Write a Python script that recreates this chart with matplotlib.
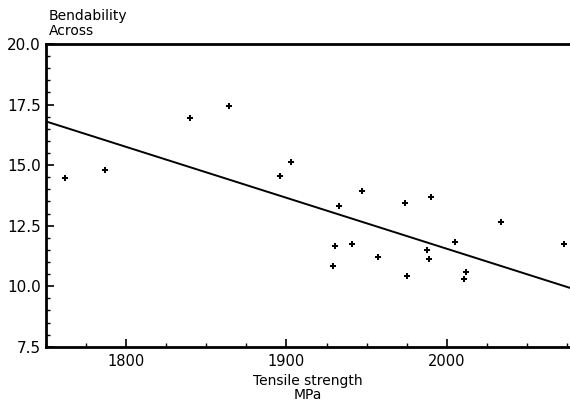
import matplotlib
matplotlib.use("Agg")
import matplotlib.pyplot as plt
from matplotlib.ticker import MultipleLocator

# tensile strength (MPa) vs bendability across
tensile = [1762, 1787, 1840, 1864, 1896, 1903, 1933, 1947, 1930, 1929,
           1941, 1957, 1974, 1990, 1975, 1988, 1989, 2005, 2012, 2011,
           2034, 2073]
bend = [14.46, 14.79, 16.94, 17.44, 14.56, 15.11, 13.31, 13.94, 11.65, 10.84,
        11.76, 11.21, 13.44, 13.67, 10.41, 11.48, 11.13, 11.82, 10.58, 10.29,
        12.64, 11.74]

# regression line end points
fit_x = [1750, 2077]
fit_y = [16.8, 9.93]

x_ticks = [1800, 1900, 2000]
y_ticks = [7.5, 10.0, 12.5, 15.0, 17.5, 20.0]

fig = plt.figure(figsize=(5.7, 4.07), dpi=100)
ax = fig.add_axes([0.081, 0.148, 0.919, 0.744])

ax.plot(tensile, bend, linestyle="none", marker="P", markersize=4,
        color="black", markeredgewidth=0)
ax.plot(fit_x, fit_y, color="black", linewidth=1.4)

ax.set_xlim(1750, 2077)
ax.set_ylim(7.5, 20.0)
ax.set_xticks(x_ticks)
ax.set_yticks(y_ticks)
ax.set_yticklabels([f"{v:.1f}" for v in y_ticks])
ax.xaxis.set_minor_locator(MultipleLocator(25))
ax.yaxis.set_minor_locator(MultipleLocator(0.5))

ax.tick_params(axis="both", which="major", direction="in", length=6,
               width=1.2, labelsize=11, color="black")
ax.tick_params(axis="both", which="minor", direction="in", length=3,
               width=1.0, color="black")
ax.tick_params(axis="x", which="major", labelsize=10.5, pad=5)
ax.tick_params(axis="y", which="major", pad=4)

for side in ["left", "bottom", "top"]:
    ax.spines[side].set_linewidth(2.0)
ax.spines["right"].set_visible(False)

ax.set_xlabel("Tensile strength\nMPa", fontsize=10, linespacing=1.0,
              labelpad=4)
fig.text(0.086, 0.942, "Bendability\nAcross", fontsize=10,
         linespacing=1.1, ha="left", va="center")

fig.savefig("out.png", dpi=100)
